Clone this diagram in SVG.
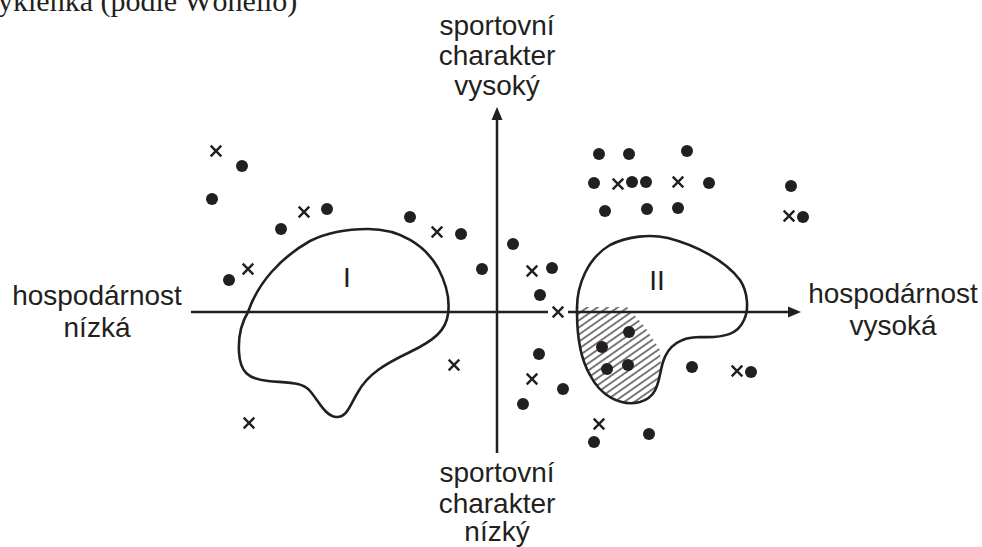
<svg xmlns="http://www.w3.org/2000/svg" width="982" height="547" viewBox="0 0 982 547">
<style>
.lbl{font-family:"Liberation Sans",Arial,sans-serif;font-size:28px;fill:#231f20;text-anchor:middle}
.ttl{font-family:"Liberation Serif","Times New Roman",serif;font-size:30px;fill:#231f20}
.ax{stroke:#231f20;stroke-width:2.5;fill:none}
.blob{stroke:#231f20;stroke-width:2.6;fill:none}
.d{fill:#231f20}
.x{stroke:#231f20;stroke-width:2.4;fill:none}
</style>
<defs>
<pattern id="hatch" patternUnits="userSpaceOnUse" width="10" height="5.8" patternTransform="rotate(-35)">
<line x1="0" y1="2.9" x2="10" y2="2.9" stroke="#231f20" stroke-width="1.2"/>
</pattern>
<clipPath id="blob2clip">
<path d="M 577,312 C 576,285 588,258 610,245 C 628,236 650,234 668,238 C 695,245 725,260 740,280 C 748,292 749,310 744,320 C 738,334 725,338 700,337 C 680,337 668,346 663,362 C 658,378 660,396 640,402 C 620,407 600,395 590,375 C 580,358 577,335 577,312 Z"/>
</clipPath>
<clipPath id="hatchclip">
<polygon points="565,307 627,307 645,327 660,350 664,420 565,420"/>
</clipPath>
<symbol id="xm" overflow="visible"><path class="x" d="M -5.3,-5.3 L 5.3,5.3 M -5.3,5.3 L 5.3,-5.3"/></symbol>
</defs>
<rect width="982" height="547" fill="#fff"/>
<text class="ttl" x="-2" y="11">yklenka (podle Wöhello)</text>

<g id="connectors">
<line class="ax" x1="497" y1="119" x2="497" y2="453"/>
<polygon points="497,107 491.5,120 502.5,120" fill="#231f20"/>
<line class="ax" x1="191" y1="312" x2="548" y2="312"/>
<line class="ax" x1="568" y1="312" x2="789" y2="312"/>
<polygon points="801,312 788,306.5 788,317.5" fill="#231f20"/>
</g>

<g id="label-top">
<text class="lbl" x="497" y="35">sportovní</text>
<text class="lbl" x="497" y="65">charakter</text>
<text class="lbl" x="497" y="95">vysoký</text>
</g>
<g id="label-bottom">
<text class="lbl" x="497" y="482">sportovní</text>
<text class="lbl" x="497" y="513">charakter</text>
<text class="lbl" x="497" y="541">nízký</text>
</g>
<g id="label-left">
<text class="lbl" x="97" y="305">hospodárnost</text>
<text class="lbl" x="97" y="337">nízká</text>
</g>
<g id="label-right">
<text class="lbl" x="893" y="303">hospodárnost</text>
<text class="lbl" x="893" y="335">vysoká</text>
</g>

<g id="cluster-I">
<path class="blob" d="M 248,312 C 258,283 280,258 310,241 C 330,231 350,229 368,229 C 400,229 425,245 438,268 C 446,283 450,300 448,314 C 446,330 435,340 410,352 C 385,364 368,374 358,392 C 350,405 347,418 336,417 C 325,416 318,400 310,391 C 302,382 290,383 268,381 C 248,379 240,372 239,352 C 238,335 242,322 248,312 Z"/>
<text class="lbl" x="347" y="287">I</text>
</g>

<g id="cluster-II">
<g clip-path="url(#hatchclip)"><rect x="560" y="300" width="120" height="120" fill="url(#hatch)" clip-path="url(#blob2clip)"/></g>
<path class="blob" d="M 577,312 C 576,285 588,258 610,245 C 628,236 650,234 668,238 C 695,245 725,260 740,280 C 748,292 749,310 744,320 C 738,334 725,338 700,337 C 680,337 668,346 663,362 C 658,378 660,396 640,402 C 620,407 600,395 590,375 C 580,358 577,335 577,312 Z"/>
<text class="lbl" x="657" y="290">II</text>
</g>

<g id="dots">
<circle class="d" cx="242" cy="166" r="6"/>
<circle class="d" cx="212" cy="199" r="6"/>
<circle class="d" cx="327" cy="209" r="6"/>
<circle class="d" cx="281" cy="229" r="6"/>
<circle class="d" cx="410" cy="217" r="6"/>
<circle class="d" cx="461" cy="234" r="6"/>
<circle class="d" cx="482" cy="269" r="6"/>
<circle class="d" cx="229" cy="280" r="6"/>
<circle class="d" cx="599" cy="154" r="6"/>
<circle class="d" cx="629" cy="154" r="6"/>
<circle class="d" cx="687" cy="151" r="6"/>
<circle class="d" cx="594" cy="183" r="6"/>
<circle class="d" cx="632" cy="182" r="6"/>
<circle class="d" cx="646" cy="182" r="6"/>
<circle class="d" cx="709" cy="183" r="6"/>
<circle class="d" cx="791" cy="186" r="6"/>
<circle class="d" cx="605" cy="211" r="6"/>
<circle class="d" cx="647" cy="209" r="6"/>
<circle class="d" cx="678" cy="208" r="6"/>
<circle class="d" cx="803" cy="217" r="6"/>
<circle class="d" cx="513" cy="244" r="6"/>
<circle class="d" cx="552" cy="268" r="6"/>
<circle class="d" cx="540" cy="295" r="6"/>
<circle class="d" cx="539" cy="354" r="6"/>
<circle class="d" cx="563" cy="389" r="6"/>
<circle class="d" cx="523" cy="404" r="6"/>
<circle class="d" cx="629" cy="332" r="6"/>
<circle class="d" cx="602" cy="347" r="6"/>
<circle class="d" cx="607" cy="369" r="6"/>
<circle class="d" cx="628" cy="365" r="6"/>
<circle class="d" cx="692" cy="367" r="6"/>
<circle class="d" cx="751" cy="372" r="6"/>
<circle class="d" cx="594" cy="442" r="6"/>
<circle class="d" cx="649" cy="434" r="6"/>
</g>

<g id="crosses">
<use href="#xm" x="216" y="151"/>
<use href="#xm" x="304" y="212"/>
<use href="#xm" x="437" y="232"/>
<use href="#xm" x="248" y="269"/>
<use href="#xm" x="454" y="365"/>
<use href="#xm" x="249" y="423"/>
<use href="#xm" x="618" y="184"/>
<use href="#xm" x="678" y="182"/>
<use href="#xm" x="789" y="216"/>
<use href="#xm" x="532" y="271"/>
<use href="#xm" x="558" y="312"/>
<use href="#xm" x="532" y="379"/>
<use href="#xm" x="737" y="371"/>
<use href="#xm" x="599" y="424"/>
</g>
</svg>
